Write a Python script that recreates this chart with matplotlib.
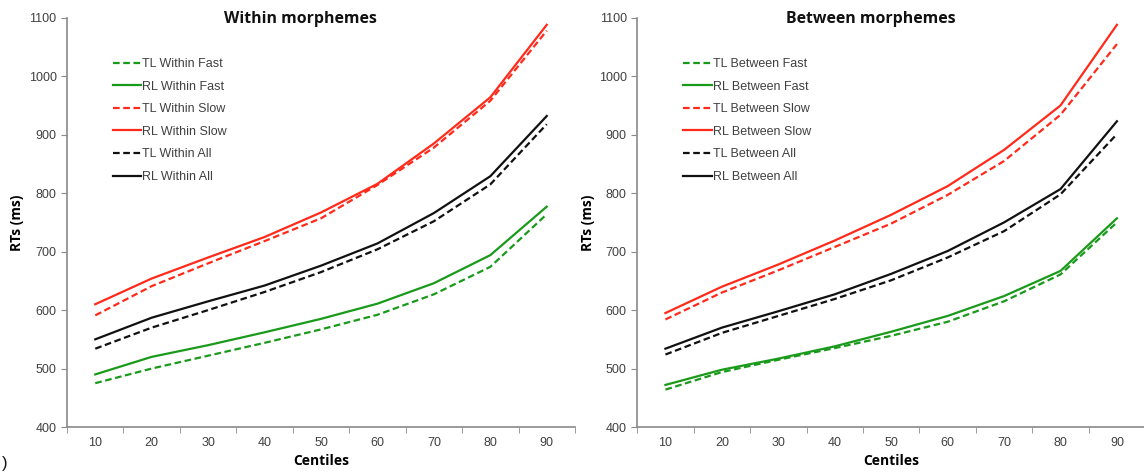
"""Within / between morpheme RT centile plots."""

import matplotlib

matplotlib.use("Agg")
import matplotlib.pyplot as plt
from matplotlib.ticker import FixedLocator

centiles = [10, 20, 30, 40, 50, 60, 70, 80, 90]

# Within morphemes
tl_within_fast = [475, 500, 522, 544, 567, 592, 627, 674, 764]
rl_within_fast = [490, 520, 540, 562, 585, 611, 646, 694, 777]
tl_within_slow = [591, 641, 680, 718, 757, 814, 878, 958, 1078]
rl_within_slow = [610, 654, 690, 725, 767, 816, 885, 964, 1088]
tl_within_all = [534, 570, 600, 631, 665, 704, 752, 815, 918]
rl_within_all = [550, 587, 615, 642, 676, 714, 766, 829, 932]

# Between morphemes
tl_between_fast = [464, 494, 515, 535, 556, 580, 615, 661, 750]
rl_between_fast = [472, 498, 517, 538, 563, 590, 624, 667, 757]
tl_between_slow = [584, 630, 668, 708, 748, 797, 855, 934, 1055]
rl_between_slow = [595, 640, 678, 719, 763, 812, 874, 950, 1088]
tl_between_all = [524, 561, 590, 619, 651, 690, 735, 798, 901]
rl_between_all = [534, 570, 598, 627, 662, 701, 750, 807, 923]

GREEN = "#1a9a1a"
RED = "#ff2a1a"
BLACK = "#111111"
SPINE = "#8a8a8a"
TEXT = "#404040"

plt.rcParams["font.family"] = ["Liberation Sans", "DejaVu Sans"]


def draw_panel(ax, title, word, series):
    x = list(range(1, len(centiles) + 1))
    styles = [
        ("TL", "Fast", GREEN, (0, (3, 1.6))),
        ("RL", "Fast", GREEN, "-"),
        ("TL", "Slow", RED, (0, (3, 1.6))),
        ("RL", "Slow", RED, "-"),
        ("TL", "All", BLACK, (0, (3, 1.6))),
        ("RL", "All", BLACK, "-"),
    ]
    for (kind, speed, color, ls), vals in zip(styles, series):
        ax.plot(x, vals, color=color, linestyle=ls, linewidth=1.6,
                label=f"{kind} {word} {speed}")

    ax.set_xlim(0.5, len(centiles) + 0.5)
    ax.set_ylim(400, 1100)
    ax.set_yticks(range(400, 1101, 100))
    ax.set_xticks(x)
    ax.set_xticklabels([str(c) for c in centiles])
    ax.xaxis.set_minor_locator(FixedLocator([i + 0.5 for i in range(len(centiles) + 1)]))
    ax.tick_params(axis="x", which="major", length=0, pad=7)
    ax.tick_params(axis="x", which="minor", length=4, color=SPINE, direction="out")
    ax.tick_params(axis="y", length=4, color=SPINE, direction="out")
    ax.tick_params(labelsize=9, labelcolor=TEXT)

    for side in ("top", "right"):
        ax.spines[side].set_visible(False)
    for side in ("left", "bottom"):
        ax.spines[side].set_color(SPINE)
        ax.spines[side].set_linewidth(1.2)

    ax.text(0.46, 0.998, title, transform=ax.transAxes, ha="center", va="center",
            fontsize=11.4, fontweight="bold", family=["Open Sans", "DejaVu Sans"],
            color="#111111")
    ax.set_ylabel("RTs (ms)", fontsize=10, fontweight="bold",
                  family=["Open Sans", "DejaVu Sans"], labelpad=3)
    ax.set_xlabel("Centiles", fontsize=10, fontweight="bold",
                  family=["Open Sans", "DejaVu Sans"], labelpad=4)

    leg = ax.legend(loc="upper left", bbox_to_anchor=(0.08, 0.914), frameon=False,
                    fontsize=9, handlelength=2.3, handletextpad=0.08,
                    labelspacing=0.85, borderaxespad=0)
    for t in leg.get_texts():
        t.set_color(TEXT)


fig = plt.figure(figsize=(11.44, 4.72), dpi=100)
ax1 = fig.add_axes([0.0586, 0.0953, 0.444, 0.867])
ax2 = fig.add_axes([0.557, 0.0953, 0.444, 0.867])

draw_panel(ax1, "Within morphemes", "Within",
           [tl_within_fast, rl_within_fast, tl_within_slow,
            rl_within_slow, tl_within_all, rl_within_all])
draw_panel(ax2, "Between morphemes", "Between",
           [tl_between_fast, rl_between_fast, tl_between_slow,
            rl_between_slow, tl_between_all, rl_between_all])

# small bracket fragment at the bottom-left corner of the source image
fig.text(0.002, 0.002, ")", fontsize=12, color="#111111", ha="left", va="bottom")

fig.savefig("out.png", dpi=100)
